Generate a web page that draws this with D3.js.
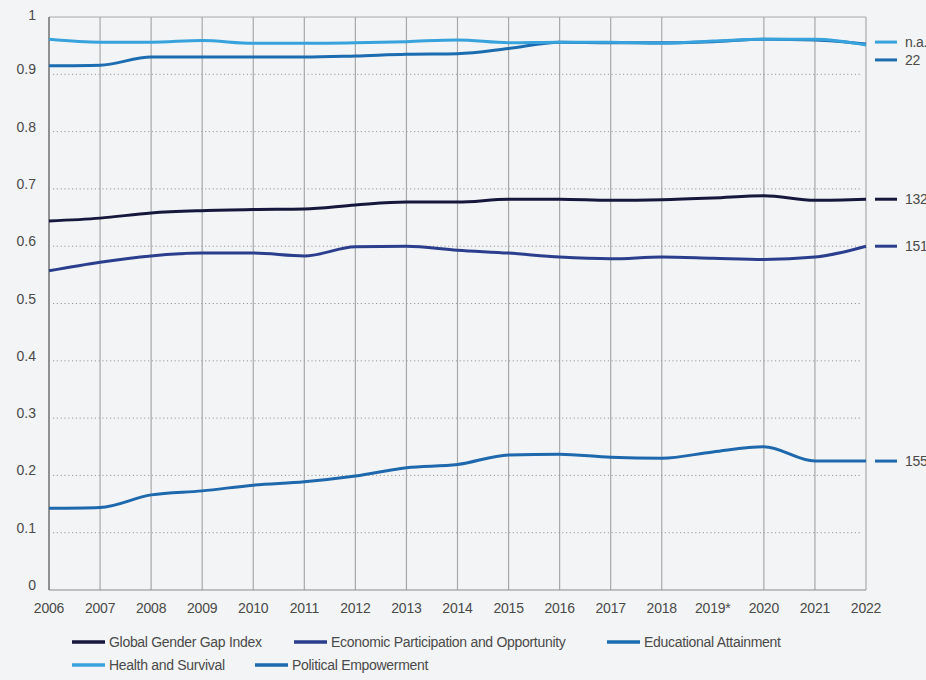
<!DOCTYPE html>
<html>
<head>
<meta charset="utf-8">
<script src="https://cdn.jsdelivr.net/npm/d3@7/dist/d3.min.js"></script>
<style>
  html, body { margin: 0; padding: 0; background: #f3f4f5; }
  svg { display: block; }
  text { font-family: "Liberation Sans", Arial, sans-serif; fill: #4a4a4a; }
</style>
</head>
<body>
<svg id="chart" width="926" height="680"></svg>
<script>
const years = ["2006","2007","2008","2009","2010","2011","2012","2013","2014","2015","2016","2017","2018","2019*","2020","2021","2022"];
const gridYears = ["2006","2007","2008","2009","2010","2011","2012","2013","2014","2015","2016","2017","2018","2020","2021","2022"];
const yTicks = [0, 0.1, 0.2, 0.3, 0.4, 0.5, 0.6, 0.7, 0.8, 0.9, 1];
const yTickLabels = ["0", "0.1", "0.2", "0.3", "0.4", "0.5", "0.6", "0.7", "0.8", "0.9", "1"];

const globalIndex = [0.644, 0.649, 0.658, 0.662, 0.664, 0.665, 0.672, 0.677, 0.677, 0.682, 0.682, 0.680, 0.681, 0.684, 0.688, 0.680, 0.682];
const economic    = [0.557, 0.572, 0.583, 0.588, 0.588, 0.583, 0.599, 0.600, 0.593, 0.588, 0.581, 0.578, 0.581, 0.579, 0.577, 0.581, 0.600];
const education   = [0.915, 0.916, 0.930, 0.930, 0.930, 0.930, 0.932, 0.935, 0.936, 0.945, 0.956, 0.955, 0.955, 0.957, 0.961, 0.960, 0.953];
const health      = [0.961, 0.956, 0.956, 0.959, 0.954, 0.954, 0.955, 0.957, 0.960, 0.955, 0.956, 0.956, 0.954, 0.958, 0.961, 0.961, 0.951];
const political   = [0.1425, 0.144, 0.166, 0.173, 0.183, 0.189, 0.199, 0.2135, 0.219, 0.2356, 0.237, 0.2316, 0.230, 0.241, 0.250, 0.225, 0.225];

const seriesNames = ["Global Gender Gap Index", "Economic Participation and Opportunity", "Educational Attainment", "Health and Survival", "Political Empowerment"];
const seriesColors = ["#16173c", "#2b3e8e", "#1b6cb0", "#38a2dc", "#1e68ad"];
const endLabels = ["132", "151", "22", "n.a.", "155"];
const seriesValues = [globalIndex, economic, education, health, political];

const svg = d3.select("#chart");

const x = d3.scalePoint().domain(years).range([49, 866]);
const y = d3.scaleLinear().domain([0, 1]).range([590, 17]);

// vertical grid lines
svg.append("g").selectAll("line").data(gridYears).join("line")
  .attr("x1", d => x(d)).attr("x2", d => x(d))
  .attr("y1", y(1)).attr("y2", y(0))
  .attr("stroke", "#a8a8a8").attr("stroke-width", 1.2);

// dotted horizontal grid
svg.append("g").selectAll("line").data(yTicks.filter(v => v > 0 && v < 1)).join("line")
  .attr("x1", x("2006") + 4).attr("x2", x("2022") - 4)
  .attr("y1", d => y(d)).attr("y2", d => y(d))
  .attr("stroke", "#9a9a9a").attr("stroke-width", 1)
  .attr("stroke-dasharray", "1.2,2.6");

// frame
svg.append("line").attr("x1", x("2006")).attr("x2", x("2022")).attr("y1", y(1)).attr("y2", y(1)).attr("stroke", "#a8a8a8").attr("stroke-width", 1.2);
svg.append("line").attr("x1", x("2006")).attr("x2", x("2022")).attr("y1", y(0)).attr("y2", y(0)).attr("stroke", "#8a8a8a").attr("stroke-width", 1.2);
svg.append("line").attr("x1", x("2006")).attr("x2", x("2006")).attr("y1", y(1)).attr("y2", y(0)).attr("stroke", "#7a7a7a").attr("stroke-width", 1.4);

// y labels
svg.append("g").selectAll("text").data(yTicks).join("text")
  .attr("x", 36).attr("y", d => y(d) + (d === 1 ? 3 : 0))
  .attr("text-anchor", "end")
  .attr("font-size", 14)
  .text((d, i) => yTickLabels[i]);

// x labels
svg.append("g").selectAll("text").data(years).join("text")
  .attr("x", d => x(d)).attr("y", 613)
  .attr("text-anchor", "middle")
  .attr("font-size", 14)
  .attr("letter-spacing", -0.2)
  .text(d => d);

// lines
const line = d3.line().x((d, i) => x(years[i])).y(d => y(d)).curve(d3.curveMonotoneX);
const drawOrder = [4, 1, 0, 2, 3];
svg.append("g").selectAll("path").data(drawOrder).join("path")
  .attr("d", k => line(seriesValues[k]))
  .attr("fill", "none")
  .attr("stroke", k => seriesColors[k])
  .attr("stroke-width", 3)
  .attr("stroke-linejoin", "round");

// end labels (health and education separated to avoid overlap)
const endY = [y(globalIndex[16]), y(economic[16]), y(education[16]) + 16, y(health[16]) - 3, y(political[16])];
const eg = svg.append("g");
seriesValues.forEach((v, k) => {
  eg.append("line").attr("x1", 875).attr("x2", 897).attr("y1", endY[k]).attr("y2", endY[k])
    .attr("stroke", seriesColors[k]).attr("stroke-width", 3);
  eg.append("text").attr("x", 905).attr("y", endY[k] + 5).attr("font-size", 14)
    .attr("letter-spacing", -0.3).text(endLabels[k]);
});

// legend
const legendItems = [
  {k: 0, x: 72, y: 642}, {k: 1, x: 294, y: 642}, {k: 2, x: 607, y: 642},
  {k: 3, x: 72, y: 665}, {k: 4, x: 255, y: 665}
];
const lg = svg.append("g");
legendItems.forEach(it => {
  lg.append("line").attr("x1", it.x).attr("x2", it.x + 33).attr("y1", it.y).attr("y2", it.y)
    .attr("stroke", seriesColors[it.k]).attr("stroke-width", 3.5);
  lg.append("text").attr("x", it.x + 37).attr("y", it.y + 5).attr("font-size", 14)
    .attr("letter-spacing", -0.3).text(seriesNames[it.k]);
});
</script>
</body>
</html>
